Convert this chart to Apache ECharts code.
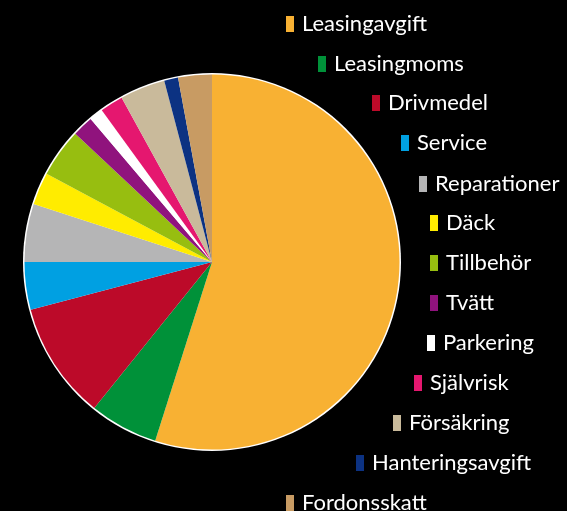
<!DOCTYPE html>
<html><head><meta charset="utf-8">
<script src="https://cdn.jsdelivr.net/npm/echarts@6/dist/echarts.min.js"></script>
<style>html,body{margin:0;padding:0;background:#000}#c{width:567px;height:511px}</style>
</head><body><div id="c"></div>
<script>
const categories = ['Leasingavgift','Leasingmoms','Drivmedel','Service','Reparationer','Däck','Tillbehör','Tvätt','Parkering','Självrisk','Försäkring','Hanteringsavgift','Fordonsskatt'];
const values = [54.9, 5.9, 10.1, 4.1, 5.0, 2.8, 4.2, 1.8, 1.2, 2.0, 3.9, 1.2, 2.9];
const colors = ['#F8B133','#009139','#BC0A29','#00A0E2','#B5B5B6','#FFEC00','#97BE10','#90137D','#FFFFFF','#E5176F','#C9BA9B','#0C3282','#C89B63'];
// legend placement (pixels): marker left and top
const legendLeft = [286, 318, 372, 401, 419, 430, 430, 430, 427, 414, 393, 356, 286];
const legendTop  = [13, 53, 92, 132, 173, 212, 252, 292, 332, 372, 412, 452, 492];

const chart = echarts.init(document.getElementById('c'), null, {renderer:'canvas'});
const legends = categories.map((n,i)=>({
  data:[n], left: legendLeft[i], top: legendTop[i], orient:'horizontal', padding:0,
  itemWidth:8, itemHeight:16, icon:'rect', selectedMode:false,
  textStyle:{color:'#ffffff', fontSize:22, fontFamily:'Lato', lineHeight:16, padding:[0,0,3,3]}
}));
chart.setOption({
  backgroundColor:'#000000',
  animation:false,
  legend: legends,
  series:[
    {type:'pie', silent:true, center:[212,262], radius:[0,189], z:1, label:{show:false}, labelLine:{show:false},
     data:[{name:'__ring', value:1, itemStyle:{color:'#ffffff'}}]},
    {type:'pie', center:[212,262], radius:[0,187.5], startAngle:90, clockwise:true, z:2,
     label:{show:false}, labelLine:{show:false}, emphasis:{disabled:true}, silent:true,
     itemStyle:{borderWidth:0},
     data: categories.map((n,i)=>({name:n, value:values[i], itemStyle:{color:colors[i]}}))}
  ]
});
</script></body></html>
